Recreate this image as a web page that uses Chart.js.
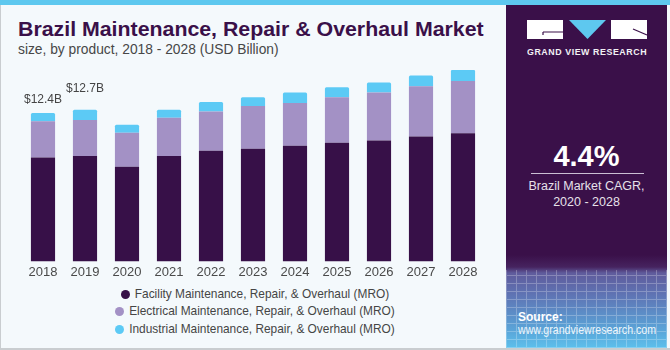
<!DOCTYPE html>
<html>
<head>
<meta charset="utf-8">
<script src="https://cdn.jsdelivr.net/npm/chart.js@4.4.0/dist/chart.umd.min.js"></script>
<style>
  html, body { margin: 0; padding: 0; }
  body { width: 670px; height: 350px; overflow: hidden; font-family: "Liberation Sans", Arial, sans-serif; }
  #frame { position: relative; width: 670px; height: 350px; background: #f4f9fc; box-sizing: border-box; }
  #topbar { position: absolute; left: 0; top: 0; width: 670px; height: 5px; background: #5ec8ef; }
  #edge { position: absolute; left: 0; top: 5px; width: 669px; height: 343px; border-left: 1px solid #c9cdd0; border-right: 1px solid #c9cdd0; border-bottom: 2px solid #c9cdd0; box-sizing: content-box; pointer-events: none; }
  .fit { position: absolute; white-space: nowrap; transform-origin: 0 0; }
  #title { left: 18px; top: 17px; font-size: 21px; font-weight: 700; color: #3a1049; }
  #subtitle { left: 18px; top: 41px; font-size: 14px; color: #474747; }
  #chartBox { position: absolute; left: 0; top: 0; width: 500px; height: 285px; }
  .legend-row { position: absolute; left: 0; width: 510px; text-align: center; font-size: 11.9px; color: #454545; line-height: 14px; }
  .legend-row span.dot { display: inline-block; width: 9px; height: 9px; border-radius: 50%; margin-right: 5px; vertical-align: -1px; }
  #panel { position: absolute; left: 506px; top: 5px; width: 161px; height: 343px; overflow: hidden;
    background: linear-gradient(to bottom, #3a1049 0px, #3a1049 250px, #46235f 262px, #5f5b9c 268px, #5f74b4 290px, #5aa4d8 325px, #5cc0ec 343px); }
  #grid { position: absolute; left: 0; top: 265px; width: 161px; height: 78px; opacity: 0.25;
    background-image: repeating-linear-gradient(0deg, #ffffff 0 1px, transparent 1px 8px), repeating-linear-gradient(90deg, #ffffff 0 1px, transparent 1px 10px); }
  #logoText { left: 21px; top: 41px; font-size: 9.5px; font-weight: 700; color: #f2f0f5; letter-spacing: 0.6px; }
  #cagr { position: absolute; left: 0; width: 161px; top: 135px; text-align: center; color: #ffffff; font-size: 29px; font-weight: 700; }
  #rule { position: absolute; left: 25px; top: 168px; width: 113px; height: 1px; background: #cbbfd4; }
  #cagrText { position: absolute; left: 0; width: 161px; top: 174px; text-align: center; color: #e6e1ea; font-size: 12.5px; line-height: 15.5px; }
  #srcLabel { left: 12px; top: 305px; font-size: 12px; font-weight: 700; color: #ffffff; }
  #srcUrl { left: 12px; top: 318px; font-size: 12px; color: #eef6fb; }
</style>
</head>
<body>
<div id="frame">
  <div id="topbar"></div>
  <div id="title" class="fit" data-w="466">Brazil Maintenance, Repair &amp; Overhaul Market</div>
  <div id="subtitle" class="fit" data-w="261">size, by product, 2018 - 2028 (USD Billion)</div>
  <div id="chartBox"><canvas id="chart" width="500" height="285"></canvas></div>
  <div id="legend"></div>
  <div id="panel">
    <div id="grid"></div>
    <svg style="position:absolute;left:0;top:0" width="161" height="45">
      <rect x="21" y="15" width="36" height="19" fill="#ffffff"/>
      <path d="M37 27 H57 M37 27 V30" stroke="#3a1049" stroke-width="1.2" fill="none"/>
      <polygon points="63,15 100,15 81.5,34" fill="#5ec8ef"/>
      <rect x="105" y="15" width="36" height="19" fill="#ffffff"/>
      <path d="M127 24 L141 30" stroke="#3a1049" stroke-width="1.2" fill="none"/>
    </svg>
    <div id="logoText" class="fit" data-w="120">GRAND VIEW RESEARCH</div>
    <div id="cagr">4.4%</div>
    <div id="rule"></div>
    <div id="cagrText">Brazil Market CAGR,<br>2020 - 2028</div>
    <div id="srcLabel" class="fit">Source:</div>
    <div id="srcUrl" class="fit" data-w="138">www.grandviewresearch.com</div>
  </div>
  <div id="edge"></div>
</div>
<script>
// ============ DATA ============
const YEARS = ["2018", "2019", "2020", "2021", "2022", "2023", "2024", "2025", "2026", "2027", "2028"];
const FACILITY = [8.68, 8.82, 7.92, 8.82, 9.24, 9.41, 9.66, 9.92, 10.11, 10.45, 10.72];
const ELECTRICAL = [3.03, 2.99, 2.83, 3.19, 3.30, 3.58, 3.58, 3.81, 4.01, 4.20, 4.37];
const INDUSTRIAL = [0.70, 0.87, 0.67, 0.67, 0.78, 0.73, 0.87, 0.82, 0.84, 0.90, 0.92];
const TOTAL_LABELS = ["$12.4B", "$12.7B", "", "", "", "", "", "", "", "", ""];

const SERIES_NAMES = [
  "Facility Maintenance, Repair, & Overhaul (MRO)",
  "Electrical Maintenance, Repair, & Overhaul (MRO)",
  "Industrial Maintenance, Repair, & Overhaul (MRO)"
];
const COLORS = ["#371048", "#a391c5", "#5ccaf5"];

// ============ LEGEND ============
const LEGEND_TOPS = [287, 304, 322];
document.getElementById("legend").innerHTML = SERIES_NAMES.map((name, i) =>
  `<div class="legend-row" style="top:${LEGEND_TOPS[i]}px"><span class="dot" style="background:${COLORS[i]}"></span>${name}</div>`
).join("");

// squeeze text blocks to the widths seen in the reference
document.querySelectorAll(".fit[data-w]").forEach(el => {
  const w = el.scrollWidth;
  const target = parseFloat(el.dataset.w);
  if (w > 0) el.style.transform = `scaleX(${target / w})`;
});

// ============ CHART ============
// labels sit staggered above the bars so they do not collide
const LABEL_LIFT = [13, 21];

const totalLabelsPlugin = {
  id: "totalLabels",
  afterDatasetsDraw(chart) {
    const ctx = chart.ctx;
    const meta = chart.getDatasetMeta(chart.data.datasets.length - 1);
    ctx.save();
    ctx.font = "12px 'Liberation Sans', Arial, sans-serif";
    ctx.fillStyle = "#444444";
    ctx.textAlign = "center";
    ctx.textBaseline = "middle";
    meta.data.forEach((bar, i) => {
      if (TOTAL_LABELS[i]) ctx.fillText(TOTAL_LABELS[i], bar.x, bar.y - (LABEL_LIFT[i] || 13));
    });
    ctx.restore();
  }
};

new Chart(document.getElementById("chart").getContext("2d"), {
  type: "bar",
  plugins: [totalLabelsPlugin],
  data: {
    labels: YEARS,
    datasets: [
      { label: SERIES_NAMES[0], data: FACILITY, backgroundColor: COLORS[0] },
      { label: SERIES_NAMES[1], data: ELECTRICAL, backgroundColor: COLORS[1] },
      { label: SERIES_NAMES[2], data: INDUSTRIAL, backgroundColor: COLORS[2], borderRadius: { topLeft: 1.5, topRight: 1.5 } }
    ]
  },
  options: {
    responsive: false,
    animation: false,
    devicePixelRatio: 1,
    layout: { padding: { left: 22, right: 16, top: 70, bottom: 2 } },
    datasets: { bar: { categoryPercentage: 1, barPercentage: 0.575, borderWidth: 0 } },
    plugins: { legend: { display: false }, tooltip: { enabled: false } },
    scales: {
      x: {
        stacked: true,
        grid: { display: false, drawTicks: false, tickLength: 0 },
        border: { display: false },
        ticks: { color: "#4a4a4a", font: { family: "'Liberation Sans', Arial, sans-serif", size: 13 }, padding: 3 }
      },
      y: { stacked: true, display: false, min: 0, max: 16 }
    }
  }
});
</script>
</body>
</html>
